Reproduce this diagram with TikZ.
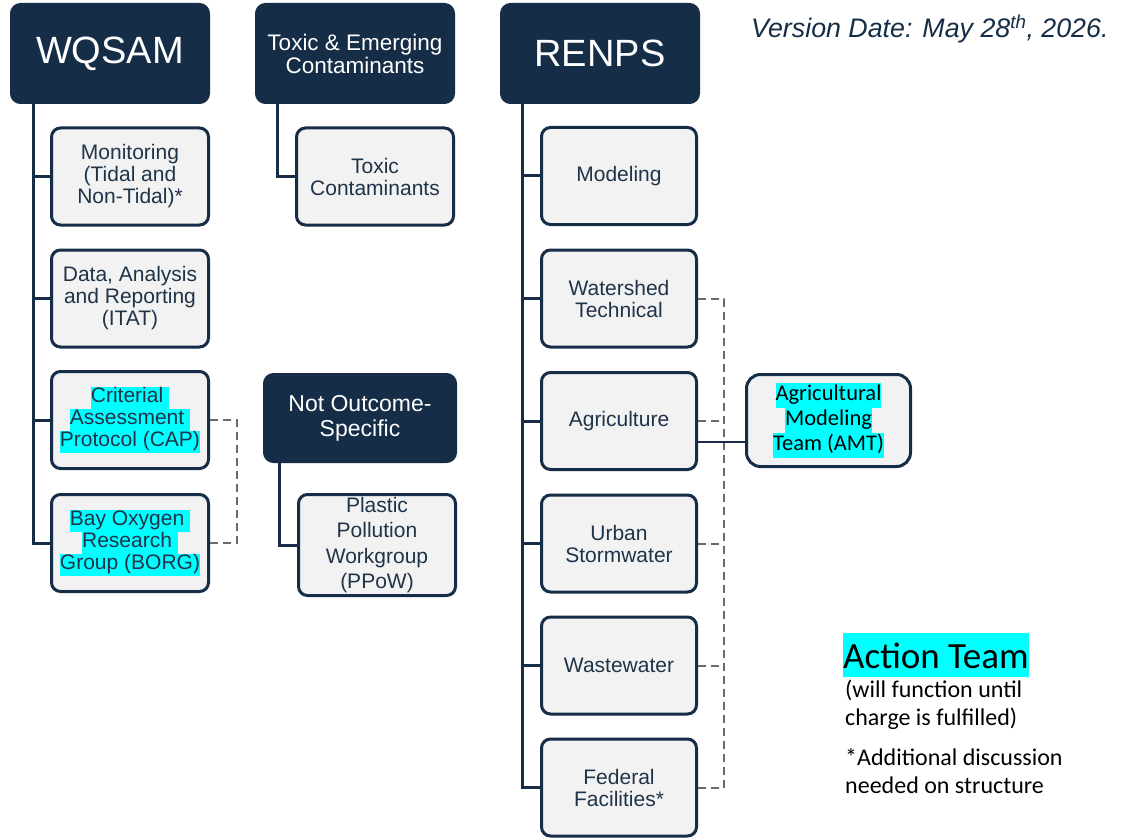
\documentclass[tikz,border=0pt]{standalone}
\usepackage{fontspec}
\setmainfont{Liberation Sans}
\newfontfamily\aptos{Carlito}
\definecolor{navy}{HTML}{152D46}
\definecolor{boxgray}{HTML}{F2F2F2}
\definecolor{txt}{HTML}{1F3448}
\definecolor{dgray}{HTML}{6B6B6B}
\definecolor{hlc}{HTML}{00FFFF}
\newcommand{\hlt}[1]{{\setlength{\fboxsep}{0pt}\colorbox{hlc}{\strut #1}}}
\begin{document}
\begin{tikzpicture}[x=1pt,y=-1pt,
  hdr/.style={rounded corners=10pt, fill=navy, draw=navy, line width=1pt, text=white, align=center, inner sep=0pt, minimum width=199pt, minimum height=100pt},
  sub/.style={rounded corners=9pt, fill=boxgray, draw=navy, line width=3pt, text=txt, align=center, inner sep=0pt, minimum width=157pt, minimum height=97pt, font=\fontsize{21}{22}\selectfont},
  rsub/.style={sub, minimum width=155pt},
  conn/.style={draw=navy, line width=3pt},
  dashc/.style={draw=dgray, line width=2pt, dash pattern=on 8pt off 5pt}]
\path[use as bounding box, fill=white] (0,0) rectangle (1123,837);

% headers
\node[hdr, font=\fontsize{38}{40}\selectfont] (wq) at (110,53.5) {WQSAM};
\node[hdr, font=\fontsize{22.5}{23}\selectfont] (tx) at (355,53.5) {Toxic \& Emerging\\Contaminants};
\node[hdr, font=\fontsize{38}{40}\selectfont] (rn) at (600,53.5) {RENPS};
\node[hdr, minimum width=193pt, minimum height=89pt, font=\fontsize{23}{25}\selectfont] (nos) at (360,418) {Not Outcome-\\Specific};

% WQSAM children
\node[sub] (mon) at (130,176.5) {Monitoring\\(Tidal and\\Non-Tidal)*};
\node[sub] (dat) at (130,298.5) {Data, Analysis\\and Reporting\\(ITAT)};
\node[sub] (cap) at (130,420) {\hlt{Criterial\ }\\\hlt{Assessment\ }\\\hlt{Protocol (CAP)}};
\node[sub] (borg) at (130,543) {\hlt{Bay Oxygen\ }\\\hlt{Research\ }\\\hlt{Group (BORG)}};

% other children
\node[sub] (tc) at (375,176.5) {Toxic\\Contaminants};
\node[sub, minimum height=101pt, font=\fontsize{21}{25.5}\selectfont] (pp) at (377,545) {Plastic\\Pollution\\Workgroup\\(PPoW)};

% RENPS children
\node[rsub] (mod) at (619,176) {Modeling};
\node[rsub] (ws) at (619,298.5) {Watershed\\Technical};
\node[rsub] (ag) at (619,421) {Agriculture};
\node[rsub] (ur) at (619,543.5) {Urban\\Stormwater};
\node[rsub] (ww) at (619,665.5) {Wastewater};
\node[rsub] (ff) at (619,787.5) {Federal\\Facilities*};

\node[sub, rounded corners=14pt, minimum width=164pt, minimum height=92pt, text=black, font=\aptos\fontsize{22.5}{25}\selectfont] (amt) at (828.5,420.5) {\hlt{Agricultural}\\\hlt{Modeling}\\\hlt{Team (AMT)}};

% trunk coordinates
\coordinate (wqx) at (33,0);
\coordinate (txx) at (277,0);
\coordinate (nox) at (279,0);
\coordinate (rnx) at (522,0);
\coordinate (dq) at (237,0);
\coordinate (dr) at (724,0);

% solid connectors
\draw[conn] (wq.south -| wqx) |- (mon.west);
\draw[conn] (wq.south -| wqx) |- (dat.west);
\draw[conn] (wq.south -| wqx) |- (cap.west);
\draw[conn] (wq.south -| wqx) |- (borg.west);
\draw[conn] (tx.south -| txx) |- (tc.west);
\draw[conn] (nos.south -| nox) |- (pp.west);
\draw[conn] (rn.south -| rnx) |- (mod.west);
\draw[conn] (rn.south -| rnx) |- (ws.west);
\draw[conn] (rn.south -| rnx) |- (ag.west);
\draw[conn] (rn.south -| rnx) |- (ur.west);
\draw[conn] (rn.south -| rnx) |- (ww.west);
\draw[conn] (rn.south -| rnx) |- (ff.west);

% dashed connectors
\draw[dashc] (cap.east) -| (dq |- borg.east) -- (borg.east);
\draw[dashc] (ws.east) -| (dr |- ff.east) -- (ff.east);
\draw[dashc] (ag.east) -- (dr |- ag.east);
\draw[dashc] (ur.east) -- (dr |- ur.east);
\draw[dashc] (ww.east) -- (dr |- ww.east);

% AMT link
\draw[draw=navy, line width=2pt] ([yshift=-21pt]ag.east) -- ([yshift=-21pt]ag.east -| amt.west);

% version date
\node[anchor=base west, inner sep=0pt, text=navy, font=\itshape\fontsize{26.8}{30}\selectfont] (ver) at (751,38) {Version Date: May 28\textsuperscript{th}, 2026.};

% legend
\node[anchor=base west, inner sep=0pt, font=\aptos\fontsize{37}{40}\selectfont] (act) at (843,668) {{\setlength{\fboxsep}{0pt}\colorbox{hlc}{\rule[-9pt]{0pt}{44pt}Action Team}}};
\node[anchor=base west, inner sep=0pt, align=left, font=\aptos\fontsize{24}{28}\selectfont] (n1) at (845,725) {(will function until\\charge is fulfilled)};
\node[anchor=base west, inner sep=0pt, align=left, font=\aptos\fontsize{24}{28}\selectfont] (n2) at (845,793) {*Additional discussion\\needed on structure};
\end{tikzpicture}
\end{document}
